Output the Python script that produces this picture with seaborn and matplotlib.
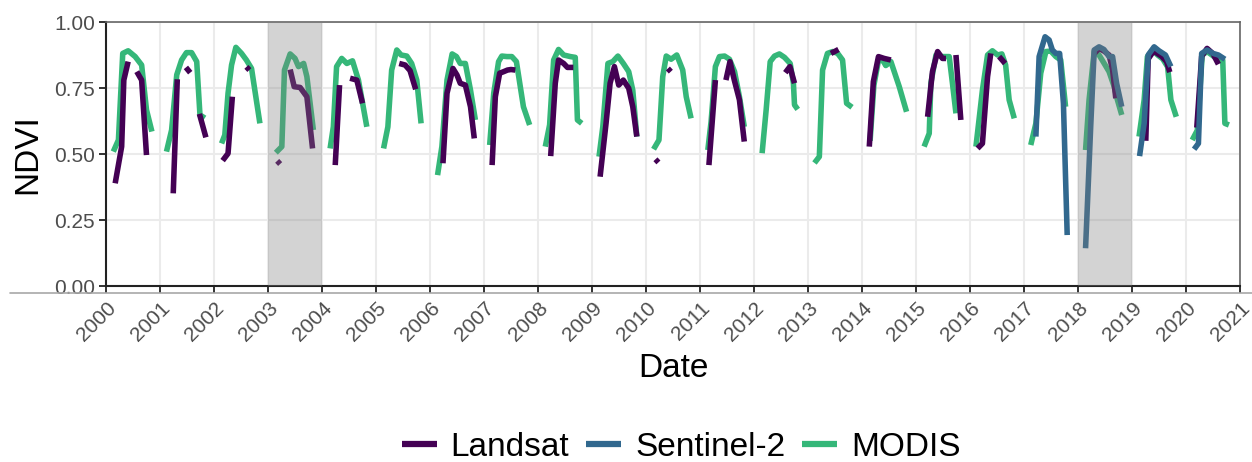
import numpy as np
import pandas as pd
import matplotlib
matplotlib.use("Agg")
import matplotlib.pyplot as plt
from matplotlib.lines import Line2D
import seaborn as sns

nan = np.nan

# ---------------- data (decimal year, NDVI); NaN separates line segments ----------------
modis_date = [
    2000.135, 2000.23, 2000.31, 2000.41, 2000.54, 2000.66, 2000.75, 2000.85, nan,
    2001.12, 2001.215, 2001.31, 2001.40, 2001.49, 2001.585, 2001.68, 2001.74, 2001.83, nan,
    2002.14, 2002.20, 2002.26, 2002.325, 2002.405, 2002.51, 2002.60, 2002.695, 2002.85, nan,
    2003.145, 2003.256, 2003.305, 2003.41, 2003.50, 2003.565, 2003.66, 2003.72, 2003.84, nan,
    2004.15, 2004.21, 2004.27, 2004.365, 2004.46, 2004.565, 2004.675, 2004.83, nan,
    2005.14, 2005.22, 2005.29, 2005.385, 2005.465, 2005.57, 2005.66, 2005.755, 2005.835, nan,
    2006.14, 2006.22, 2006.315, 2006.41, 2006.49, 2006.56, 2006.655, 2006.75, 2006.84, nan,
    2007.105, 2007.18, 2007.27, 2007.33, 2007.425, 2007.515, 2007.60, 2007.73, 2007.845, nan,
    2008.135, 2008.215, 2008.29, 2008.38, 2008.475, 2008.60, 2008.69, 2008.73, 2008.81, nan,
    2009.13, 2009.20, 2009.295, 2009.385, 2009.48, 2009.58, 2009.68, 2009.755, 2009.83, nan,
    2010.14, 2010.24, 2010.31, 2010.375, 2010.465, 2010.57, 2010.68, 2010.745, 2010.835, nan,
    2011.145, 2011.205, 2011.285, 2011.36, 2011.455, 2011.545, 2011.64, 2011.73, 2011.82, nan,
    2012.15, 2012.225, 2012.30, 2012.38, 2012.47, 2012.565, 2012.67, 2012.73, 2012.75, 2012.81, nan,
    2013.12, 2013.21, 2013.27, 2013.36, 2013.455, 2013.55, 2013.64, 2013.715, 2013.815, nan,
    2014.15, 2014.22, 2014.31, 2014.40, 2014.44, 2014.535, 2014.69, 2014.825, nan,
    2015.15, 2015.245, 2015.275, 2015.37, 2015.49, 2015.615, 2015.675, 2015.74, nan,
    2016.11, 2016.23, 2016.325, 2016.415, 2016.51, 2016.59, 2016.66, 2016.725, 2016.82, nan,
    2017.125, 2017.22, 2017.31, 2017.405, 2017.495, 2017.59, 2017.68, 2017.77, nan,
    2018.14, 2018.205, 2018.30, 2018.39, 2018.485, 2018.575, 2018.67, 2018.73, 2018.81, nan,
    2019.13, 2019.225, 2019.285, 2019.38, 2019.475, 2019.57, 2019.66, 2019.72, 2019.82, nan,
    2020.115, 2020.21, 2020.30, 2020.39, 2020.48, 2020.60, 2020.68, 2020.72, 2020.795,
]
modis_ndvi = [
    0.509, 0.553, 0.881, 0.891, 0.869, 0.837, 0.667, 0.585, nan,
    0.509, 0.591, 0.800, 0.856, 0.884, 0.884, 0.850, 0.648, 0.636, nan,
    0.540, 0.572, 0.730, 0.837, 0.904, 0.881, 0.856, 0.824, 0.616, nan,
    0.505, 0.528, 0.818, 0.879, 0.862, 0.831, 0.843, 0.793, 0.591, nan,
    0.521, 0.603, 0.831, 0.862, 0.843, 0.853, 0.780, 0.603, nan,
    0.521, 0.603, 0.818, 0.894, 0.875, 0.871, 0.843, 0.780, 0.616, nan,
    0.420, 0.528, 0.780, 0.879, 0.869, 0.843, 0.843, 0.742, 0.629, nan,
    0.534, 0.730, 0.850, 0.871, 0.869, 0.869, 0.850, 0.679, 0.610, nan,
    0.528, 0.610, 0.856, 0.896, 0.875, 0.869, 0.866, 0.629, 0.616, nan,
    0.490, 0.603, 0.843, 0.850, 0.871, 0.843, 0.812, 0.742, 0.566, nan,
    0.518, 0.553, 0.793, 0.871, 0.859, 0.875, 0.818, 0.717, 0.635, nan,
    0.515, 0.622, 0.831, 0.869, 0.871, 0.859, 0.812, 0.717, 0.603, nan,
    0.503, 0.667, 0.850, 0.871, 0.879, 0.866, 0.843, 0.768, 0.686, 0.669, nan,
    0.466, 0.490, 0.818, 0.881, 0.888, 0.881, 0.856, 0.692, 0.677, nan,
    0.550, 0.760, 0.860, 0.850, 0.835, 0.850, 0.755, 0.660, nan,
    0.528, 0.578, 0.768, 0.875, 0.869, 0.869, 0.768, 0.654, nan,
    0.528, 0.742, 0.875, 0.891, 0.875, 0.879, 0.837, 0.705, 0.635, nan,
    0.534, 0.616, 0.806, 0.888, 0.890, 0.869, 0.856, 0.679, nan,
    0.515, 0.705, 0.888, 0.875, 0.843, 0.812, 0.755, 0.705, 0.648, nan,
    0.566, 0.705, 0.869, 0.894, 0.875, 0.860, 0.830, 0.705, 0.641, nan,
    0.553, 0.590, 0.875, 0.888, 0.875, 0.856, 0.856, 0.616, 0.610,
]

landsat_date = [
    2000.17, 2000.29, 2000.33, 2000.41, nan, 2000.57, 2000.66, 2000.75, nan,
    2001.245, 2001.32, nan, 2001.48, 2001.56, nan, 2001.73, 2001.85, nan,
    2002.16, 2002.26, 2002.34, nan, 2002.60, 2002.655, nan,
    2003.17, 2003.225, nan, 2003.41, 2003.485, 2003.595, 2003.72, 2003.825, nan,
    2004.245, 2004.325, nan, 2004.52, 2004.645, 2004.75, nan,
    2005.43, 2005.54, 2005.63, 2005.735, nan,
    2006.24, 2006.315, 2006.425, 2006.50, 2006.56, 2006.655, 2006.75, 2006.82, nan,
    2007.15, 2007.21, 2007.29, 2007.365, 2007.435, 2007.50, 2007.58, nan,
    2008.235, 2008.32, 2008.38, 2008.475, 2008.545, 2008.655, nan,
    2009.15, 2009.26, 2009.335, 2009.415, 2009.495, 2009.58, 2009.68, 2009.755, 2009.83, nan,
    2010.175, 2010.23, nan, 2010.405, 2010.46, nan,
    2011.165, 2011.285, nan, 2011.48, 2011.555, 2011.635, 2011.73, 2011.82, nan,
    2012.58, 2012.665, 2012.75, nan,
    2013.425, 2013.565, nan,
    2014.135, 2014.21, 2014.305, 2014.41, 2014.535, nan,
    2015.215, 2015.305, 2015.40, 2015.49, 2015.555, nan, 2015.74, 2015.83, nan,
    2016.14, 2016.23, 2016.325, 2016.385, nan, 2016.54, 2016.65, nan,
    2018.30, 2018.39, 2018.48, 2018.575, 2018.64, 2018.70, nan,
    2019.255, 2019.30, 2019.40, 2019.55, 2019.64, 2019.70, nan,
    2020.20, 2020.29, 2020.39, 2020.50, 2020.60,
]
landsat_ndvi = [
    0.389, 0.528, 0.780, 0.850, nan, 0.812, 0.780, 0.496, nan,
    0.351, 0.783, nan, 0.828, 0.808, nan, 0.652, 0.563, nan,
    0.475, 0.502, 0.717, nan, 0.830, 0.818, nan,
    0.474, 0.462, nan, 0.820, 0.755, 0.752, 0.717, 0.521, nan,
    0.458, 0.761, nan, 0.787, 0.780, 0.692, nan,
    0.843, 0.837, 0.816, 0.745, nan,
    0.465, 0.730, 0.824, 0.799, 0.768, 0.761, 0.679, 0.559, nan,
    0.458, 0.717, 0.806, 0.812, 0.818, 0.820, 0.818, nan,
    0.492, 0.768, 0.856, 0.843, 0.828, 0.828, nan,
    0.414, 0.616, 0.768, 0.831, 0.761, 0.780, 0.749, 0.679, 0.566, nan,
    0.480, 0.468, nan, 0.824, 0.812, nan,
    0.458, 0.780, nan, 0.780, 0.850, 0.780, 0.705, 0.547, nan,
    0.808, 0.831, 0.768, nan,
    0.881, 0.896, nan,
    0.528, 0.774, 0.869, 0.862, 0.856, nan,
    0.641, 0.812, 0.888, 0.862, 0.862, nan, 0.875, 0.629, nan,
    0.521, 0.540, 0.793, 0.881, nan, 0.869, 0.843, nan,
    0.880, 0.900, 0.890, 0.875, 0.820, 0.711, nan,
    0.550, 0.860, 0.890, 0.870, 0.850, 0.810, nan,
    0.600, 0.870, 0.900, 0.880, 0.840,
]

sentinel_date = [
    2017.22, 2017.28, 2017.39, 2017.465, 2017.525, 2017.59, 2017.66, 2017.73, 2017.80, nan,
    2018.14, 2018.235, 2018.30, 2018.39, 2018.48, 2018.575, 2018.64, 2018.715, 2018.81, nan,
    2019.14, 2019.225, 2019.30, 2019.41, 2019.50, 2019.62, 2019.72, nan,
    2020.15, 2020.23, 2020.29, 2020.39, 2020.50, 2020.60, 2020.72,
]
sentinel_ndvi = [
    0.566, 0.869, 0.944, 0.932, 0.894, 0.881, 0.881, 0.692, 0.193, nan,
    0.143, 0.603, 0.894, 0.906, 0.896, 0.869, 0.869, 0.768, 0.679, nan,
    0.492, 0.616, 0.875, 0.906, 0.891, 0.875, 0.831, nan,
    0.518, 0.540, 0.881, 0.894, 0.881, 0.875, 0.859,
]

sources = ["Landsat", "Sentinel-2", "MODIS"]
source_colors = ["#440154", "#31688E", "#35B779"]
highlight_years = [2003, 2018]
year_ticks = list(range(2000, 2022))
ndvi_ticks = [0.00, 0.25, 0.50, 0.75, 1.00]


def to_frame(dates, vals, name):
    d = np.array(dates, dtype=float)
    v = np.array(vals, dtype=float)
    seg = np.cumsum(np.isnan(d))
    df = pd.DataFrame({"Date": d, "NDVI": v, "seg": seg, "Source": name})
    df = df.dropna()
    df["unit"] = name + "_" + df["seg"].astype(str)
    return df


frames = {
    "MODIS": to_frame(modis_date, modis_ndvi, "MODIS"),
    "Landsat": to_frame(landsat_date, landsat_ndvi, "Landsat"),
    "Sentinel-2": to_frame(sentinel_date, sentinel_ndvi, "Sentinel-2"),
}
palette = dict(zip(sources, source_colors))

sns.set_theme(style="white")
plt.rcParams["font.family"] = ["Liberation Sans", "DejaVu Sans"]

fig = plt.figure(figsize=(12.52, 4.62), dpi=100)
ax = fig.add_axes([106 / 1252, 1 - 286 / 462, (1240 - 106) / 1252, (286 - 22) / 462])

# grid
for t in year_ticks:
    ax.axvline(t, color="#ebebeb", lw=1.5, zorder=0)
for t in ndvi_ticks:
    ax.axhline(t, color="#ebebeb", lw=1.5, zorder=0)

# draw order: MODIS, Landsat, Sentinel-2
for name in ["MODIS", "Landsat", "Sentinel-2"]:
    sns.lineplot(data=frames[name], x="Date", y="NDVI", units="unit", estimator=None,
                 sort=False, color=palette[name], linewidth=4.0, ax=ax, legend=False,
                 solid_capstyle="butt", solid_joinstyle="round", zorder=2)

for y0 in highlight_years:
    ax.axvspan(y0, y0 + 1, color="#7f7f7f", alpha=0.34, lw=0, zorder=3)

ax.set_xlim(2000, 2021)
ax.set_ylim(0, 1)
ax.set_xticks(year_ticks)
ax.set_xticklabels([str(y) for y in year_ticks], rotation=45, ha="right",
                   rotation_mode="anchor", fontsize=15, color="#4d4d4d")
ax.set_yticks(ndvi_ticks)
ax.set_yticklabels([f"{t:.2f}" for t in ndvi_ticks], fontsize=15, color="#4d4d4d")
ax.tick_params(axis="both", length=5, width=1.3, color="#222222", direction="out",
               bottom=True, left=True, pad=3)
ax.tick_params(axis="x", pad=4)
ax.set_xlabel("Date", fontsize=24, color="black", labelpad=6)
ax.set_ylabel("NDVI", fontsize=24, color="black", labelpad=8)

for side in ["left", "bottom"]:
    ax.spines[side].set_color("#222222")
    ax.spines[side].set_linewidth(1.5)
for side in ["top", "right"]:
    ax.spines[side].set_color("#666666")
    ax.spines[side].set_linewidth(1.2)
ax.set_facecolor("white")

# faint horizontal rule below the panel
fig.add_artist(Line2D([10 / 1252, 1.0], [1 - 293 / 462] * 2, color="#a8a8a8", lw=1.2))

handles = [Line2D([0], [0], color=c, lw=4.5, solid_capstyle="butt") for c in source_colors]
fig.legend(handles, sources, loc="center", bbox_to_anchor=(681 / 1252, 1 - 447 / 462),
           ncol=3, frameon=False, fontsize=24, handlelength=1.05, handletextpad=0.42,
           columnspacing=0.5, borderaxespad=0, labelcolor="black")

fig.savefig("out.png", dpi=100)
